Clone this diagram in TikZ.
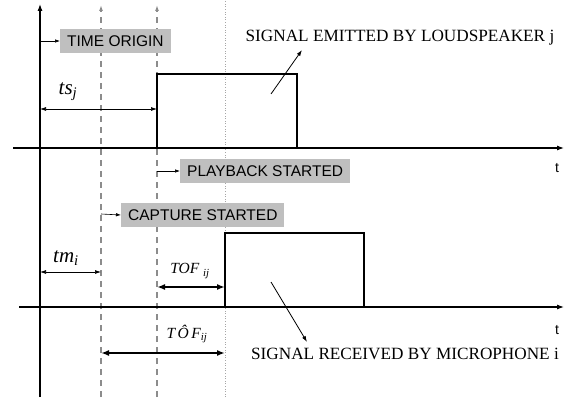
\documentclass[tikz,border=0pt]{standalone}
\usepackage{fontspec}
\setmainfont{Liberation Serif}
\setsansfont{Liberation Sans}
\usetikzlibrary{arrows.meta,positioning}

\begin{document}
\begin{tikzpicture}[x=1pt,y=-1pt,
  every node/.style={inner sep=0pt},
  axis/.style={line width=1.1pt,-{Latex[length=7pt,width=5pt]}},
  marker/.style={gray!90,line width=1.2pt,dash pattern=on 6pt off 5pt,-{Latex[length=6pt,width=4pt]}},
  probe/.style={gray!70,line width=0.6pt,dotted},
  pulse/.style={line width=1.4pt},
  tag/.style={fill=gray!50,font=\sffamily\fontsize{15.5}{15.5}\selectfont,inner xsep=7pt,minimum height=24pt,anchor=west},
  caption/.style={font=\fontsize{17.2}{18}\selectfont},
  ptr/.style={line width=0.6pt,-{Latex[length=5pt,width=3.5pt]}},
  lead/.style={line width=0.8pt,-{Latex[length=6pt,width=4pt]}},
  span/.style={line width=0.7pt,{Latex[length=6pt,width=4pt]}-{Latex[length=6pt,width=4pt]}},
  wide/.style={line width=1.8pt,{Latex[length=8pt,width=6pt]}-{Latex[length=8pt,width=6pt]}},
  sym/.style={font=\itshape\fontsize{21}{21}\selectfont},
  tof/.style={font=\itshape\fontsize{15.5}{15.5}\selectfont}
]
\useasboundingbox (0,0) rectangle (576,401);

% time lines
\coordinate (o-bot) at (40,397);  \coordinate (o-top) at (40,4);
\coordinate (m-bot) at (101,397); \coordinate (m-top) at (101,5);
\coordinate (p-bot) at (157,397); \coordinate (p-top) at (157,5);
\coordinate (r-bot) at (225,397); \coordinate (r-top) at (225,0);
\draw[axis] (o-bot) -- (o-top);
\draw[marker] (m-bot) -- (m-top);
\draw[marker] (p-bot) -- (p-top);
\draw[probe] (r-bot) -- (r-top);

% time axes
\coordinate (ta-l) at (13,148);  \coordinate (ta-r) at (564,148);
\coordinate (tb-l) at (19,307);  \coordinate (tb-r) at (564,307);
\draw[axis] (ta-l) -- (ta-r);
\draw[axis] (tb-l) -- (tb-r);
\node (ta-t) at (557,168) {\sffamily\fontsize{14}{14}\selectfont t};
\node (tb-t) at (557,330) {\sffamily\fontsize{14}{14}\selectfont t};

% pulses
\draw[pulse] (157,148) rectangle (297,74);
\draw[pulse] (225,307) rectangle (364,233);

% event tags
\node[tag] (origin) at (60,41) {TIME ORIGIN};
\node[tag] (play) at (180,171) {PLAYBACK STARTED};
\node[tag] (capt) at (121,215) {CAPTURE STARTED};
\coordinate (o-hook) at (40,41);
\coordinate (p-hook) at (157,171);
\coordinate (m-hook) at (101,214);
\draw[ptr] (o-hook) -- (origin.west);
\draw[ptr] (p-hook) -- (play.west);
\draw[ptr] (m-hook) -- (capt.west);

% signal captions
\node[caption] (emit) at (400,38) {SIGNAL EMITTED BY LOUDSPEAKER j};
\node[caption] (recv) at (405,354) {SIGNAL RECEIVED BY MICROPHONE i};
\coordinate (emit-in) at (271,94);  \coordinate (emit-out) at (302,50);
\coordinate (recv-in) at (271,282); \coordinate (recv-out) at (307,342);
\draw[lead] (emit-in) -- (emit-out);
\draw[lead] (recv-in) -- (recv-out);

% delays
\node[sym] (ts) at (68,92) {ts\textsubscript{j}};
\node[sym] (tm) at (66,258) {tm\textsubscript{i}};
\node[tof] (tof) at (190,271) {TOF \textsubscript{ij}};
\node[tof] (tofh) at (187,334) {T\,\^O\,F\textsubscript{ij}};
\coordinate (ts-a) at (40,109);  \coordinate (ts-b) at (157,109);
\coordinate (tm-a) at (40,272);  \coordinate (tm-b) at (101,272);
\coordinate (tof-a) at (157,287); \coordinate (tof-b) at (225,287);
\coordinate (tofh-a) at (101,353); \coordinate (tofh-b) at (225,353);
\draw[span] (ts-a) -- (ts-b);
\draw[span] (tm-a) -- (tm-b);
\draw[wide] (tof-a) -- (tof-b);
\draw[wide] (tofh-a) -- (tofh-b);
\end{tikzpicture}
\end{document}
